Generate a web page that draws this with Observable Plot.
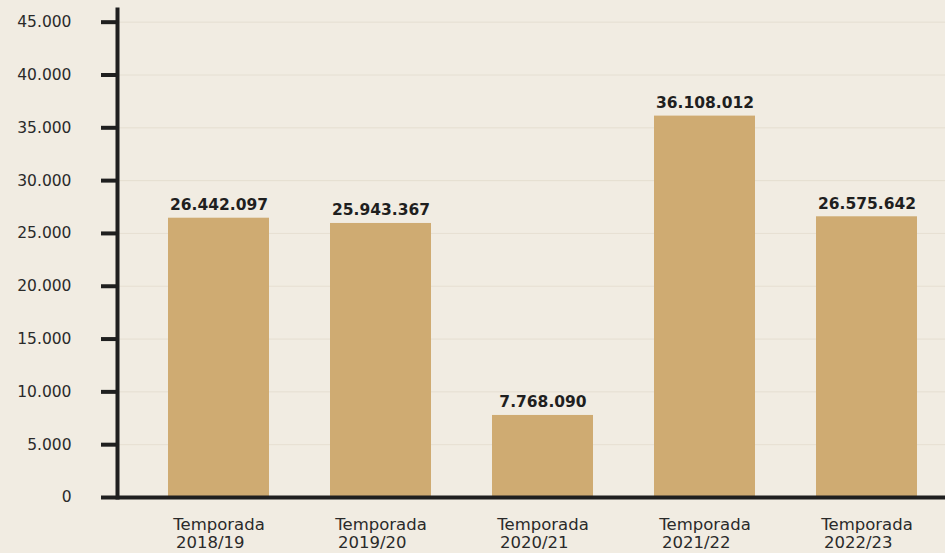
<!DOCTYPE html>
<html>
<head>
<meta charset="utf-8">
<script src="https://cdn.jsdelivr.net/npm/d3@7"></script>
<script src="https://cdn.jsdelivr.net/npm/@observablehq/plot@0.6"></script>
<style>
  html, body { margin: 0; padding: 0; background: #f1ece2; }
  #chart { width: 945px; height: 553px; }
</style>
</head>
<body>
<div id="chart"></div>
<script>
const seasons = ["2018/19", "2019/20", "2020/21", "2021/22", "2022/23"];
const values = [26442097, 25943367, 7768090, 36108012, 26575642];
const yTicks = [0, 5000000, 10000000, 15000000, 20000000, 25000000, 30000000, 35000000, 40000000, 45000000];

const data = seasons.map((s, i) => ({season: s, value: values[i]}));
const loc = d3.formatLocale({decimal: ",", thousands: ".", grouping: [3], currency: ["", ""]});
const fmt = loc.format(",");

const ink = "#1f1f1f";
const font = "'DejaVu Sans', sans-serif";

const chart = Plot.plot({
  width: 945,
  height: 553,
  marginLeft: 117,
  marginRight: 0,
  marginTop: 9,
  marginBottom: 56,
  style: {background: "#f1ece2", fontFamily: font, color: ink},
  x: {domain: seasons, range: [137, 948], paddingInner: 0.375, paddingOuter: 0.1875, axis: null},
  y: {domain: [0, 46200000], axis: null, label: null},
  marks: [
    Plot.gridY(yTicks, {stroke: "#ddd5c6", strokeOpacity: 0.6, strokeWidth: 1}),
    Plot.barY(data, {x: "season", y: "value", fill: "#cfab72"}),
    Plot.text(data, {x: "season", y: "value", text: d => fmt(d.value), dy: -13, fontSize: 15.5, fontWeight: "bold", fill: ink}),
    Plot.axisY(yTicks, {anchor: "left", label: null, tickSize: 16, tickPadding: 30, strokeWidth: 4, stroke: ink, fill: "#2a2a2a", fontSize: 15.5, tickFormat: d => fmt(d / 1000)}),
    Plot.ruleY([0], {stroke: ink, strokeWidth: 4}),
    Plot.frame({anchor: "left", stroke: ink, strokeWidth: 4}),
    Plot.text(data, {x: "season", y: 0, text: () => "Temporada", dy: 27, fontSize: 16.5, fill: "#2a2a2a"}),
    Plot.text(data, {x: "season", y: 0, text: "season", dy: 45, dx: -43, textAnchor: "start", fontSize: 16.5, fill: "#2a2a2a"})
  ]
});
document.getElementById("chart").appendChild(chart);
</script>
</body>
</html>
